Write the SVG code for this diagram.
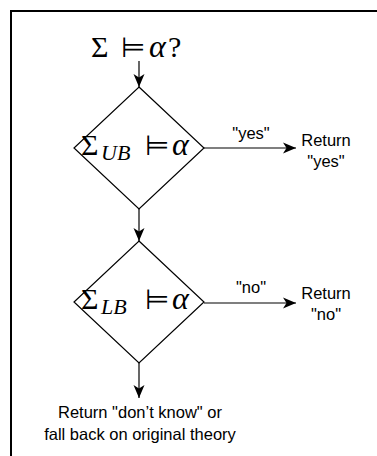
<svg xmlns="http://www.w3.org/2000/svg" width="377" height="456" viewBox="0 0 377 456">
<style>
.frame{fill:none;stroke:#000;stroke-width:2}
.shape{fill:#fff;stroke:#000;stroke-width:1.2}
.edge{fill:none;stroke:#000;stroke-width:1.2}
.sans{font-family:"Liberation Sans",Arial,sans-serif;font-size:16.5px;fill:#000;text-anchor:middle}
.math{font-family:"Liberation Serif","DejaVu Serif",serif;font-size:30px;fill:#000}
.it{font-style:italic;font-size:32px}
.sub{font-family:"Liberation Serif",serif;font-style:italic;font-size:22px}
.rel{font-family:"DejaVu Sans",sans-serif;font-size:28px}
</style>
<defs>
<marker id="arr" markerUnits="userSpaceOnUse" markerWidth="14" markerHeight="12" refX="13" refY="6" orient="auto">
<path d="M0,0.5 L13,6 L0,11.5 L3.5,6 z" fill="#000"/>
</marker>
</defs>
<rect class="frame" x="11" y="11" width="400" height="480"/>
<g id="start">
<text class="math" y="57"><tspan x="91">Σ</tspan><tspan class="rel" x="121">⊨</tspan><tspan class="it" x="149">α</tspan><tspan x="168">?</tspan></text>
</g>
<g id="connectors">
<line class="edge" x1="139" y1="61" x2="139" y2="87" marker-end="url(#arr)"/>
<line class="edge" x1="139" y1="209" x2="139" y2="241" marker-end="url(#arr)"/>
<line class="edge" x1="139" y1="363" x2="139" y2="398" marker-end="url(#arr)"/>
<line class="edge" x1="204" y1="148" x2="296" y2="148" marker-end="url(#arr)"/>
<line class="edge" x1="204" y1="303" x2="296" y2="303" marker-end="url(#arr)"/>
<text class="sans" x="251" y="139">"yes"</text>
<text class="sans" x="251" y="293">"no"</text>
</g>
<g id="ub">
<polygon class="shape" points="139,87 204,148 139,209 74,148"/>
<text class="math" y="155"><tspan x="81">Σ</tspan><tspan class="sub" x="101" y="160">UB</tspan><tspan class="rel" x="145" y="155">⊨</tspan><tspan class="it" x="172">α</tspan></text>
</g>
<g id="lb">
<polygon class="shape" points="139,241 204,302 139,363 74,302"/>
<text class="math" y="309"><tspan x="81">Σ</tspan><tspan class="sub" x="101" y="314">LB</tspan><tspan class="rel" x="145" y="309">⊨</tspan><tspan class="it" x="172">α</tspan></text>
</g>
<g id="ret-yes">
<text class="sans" x="326" y="146">Return</text>
<text class="sans" x="326" y="167">"yes"</text>
</g>
<g id="ret-no">
<text class="sans" x="326" y="299">Return</text>
<text class="sans" x="326" y="320">"no"</text>
</g>
<g id="ret-unknown">
<text class="sans" x="140" y="418">Return "don’t know" or</text>
<text class="sans" x="140" y="440">fall back on original theory</text>
</g>
</svg>
